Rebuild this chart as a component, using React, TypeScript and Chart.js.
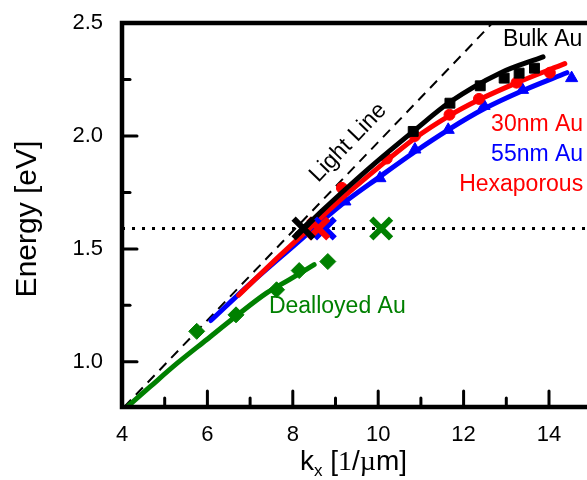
import { useEffect, useRef } from "react";
import { Chart, registerables } from "chart.js";
Chart.register(...registerables);

const FONT = "'Liberation Sans', Arial, sans-serif";

// axis ticks
const xTicks = [4, 6, 8, 10, 12, 14];
const xMinorTicks = [5, 7, 9, 11, 13];
const yTicks = [1.0, 1.5, 2.0, 2.5];
const yMinorTicks = [1.25, 1.75, 2.25];

// light line and reference energy line
const lightK = [4.05, 12.7];
const lightE = [0.8, 2.505];
const refK = [4, 14.9];
const refE = [1.59, 1.59];

// Bulk Au
const bulkK = [10.82, 11.68, 12.39, 12.95, 13.3, 13.66];
const bulkE = [2.02, 2.145, 2.222, 2.256, 2.278, 2.3];
const bulkFitK = [8.1, 8.25, 8.71, 9.3, 9.88, 10.82, 11.68, 12.85, 13.86];
const bulkFitE = [1.565, 1.59, 1.673, 1.775, 1.872, 2.02, 2.15, 2.278, 2.35];

// 30nm Au Hexaporous
const au30K = [9.15, 10.2, 10.86, 11.67, 12.36, 13.24, 14.02];
const au30E = [1.77, 1.9, 2.0, 2.094, 2.164, 2.236, 2.28];
const au30FitK = [6.73, 7.5, 8.3, 9.1, 10.0, 10.86, 11.67, 12.36, 13.24, 14.37];
const au30FitE = [1.295, 1.435, 1.575, 1.715, 1.86, 1.99, 2.09, 2.16, 2.235, 2.32];

// 55nm Au Hexaporous
const au55K = [9.22, 10.04, 10.86, 11.64, 12.48, 13.38, 14.53];
const au55E = [1.71, 1.813, 1.94, 2.027, 2.133, 2.204, 2.256];
const au55FitK = [6.08, 7.0, 8.0, 9.1, 10.04, 10.86, 11.64, 12.48, 13.38, 14.42];
const au55FitE = [1.183, 1.345, 1.51, 1.69, 1.82, 1.93, 2.027, 2.12, 2.2, 2.28];

// Dealloyed Au
const dealK = [5.75, 6.67, 7.62, 8.15, 8.82];
const dealE = [1.135, 1.208, 1.319, 1.404, 1.444];
const dealFitK = [4.15, 4.66, 5.3, 5.98, 6.69, 7.39, 7.93, 8.5];
const dealFitE = [0.805, 0.89, 0.995, 1.098, 1.205, 1.305, 1.365, 1.43];

// crossing markers (X) at the reference energy
const crossBulkK = [8.25];
const crossAu30K = [8.6];
const crossAu55K = [8.75];
const crossDealK = [10.07];
const crossE = [1.59];

const BLACK = "#000000";
const RED = "#ff0000";
const BLUE = "#0000ff";
const GREEN = "#008000";

const annotations = [
  { text: "Bulk Au", k: 14.78, e: 2.425, color: BLACK, align: "right" },
  { text: "30nm Au", k: 14.8, e: 2.049, color: RED, align: "right" },
  { text: "55nm Au", k: 14.8, e: 1.919, color: BLUE, align: "right" },
  { text: "Hexaporous", k: 14.8, e: 1.784, color: RED, align: "right" },
  { text: "Dealloyed Au", k: 7.44, e: 1.245, color: GREEN, align: "left" },
];

const pts = (xs: number[], ys: number[]) => xs.map((x, i) => ({ x, y: ys[i] }));

const lineDs = (data: any, color: string, order: number, extra: any = {}) => ({
  data,
  showLine: true,
  borderColor: color,
  backgroundColor: color,
  borderWidth: 5,
  pointRadius: 0,
  tension: 0.4,
  cubicInterpolationMode: "monotone",
  borderCapStyle: "round",
  order,
  ...extra,
});

const markDs = (data: any, color: string, style: string, radius: number, order: number, bw = 1) => ({
  data,
  showLine: false,
  pointStyle: style,
  pointRadius: radius,
  pointBorderWidth: bw,
  borderColor: color,
  backgroundColor: color,
  pointBackgroundColor: color,
  pointBorderColor: color,
  order,
});

const framePlugin = {
  id: "frame",
  afterDraw(chart: any) {
    const { ctx, chartArea, scales } = chart;
    const xs = scales.x;
    const ys = scales.y;
    const left = chartArea.left;
    const bottom = chartArea.bottom;
    const top = chartArea.top;
    const right = chart.width;
    ctx.save();
    ctx.strokeStyle = "#000";
    ctx.lineCap = "round";
    ctx.lineWidth = 3;
    const tick = (x1: number, y1: number, x2: number, y2: number) => {
      ctx.beginPath();
      ctx.moveTo(x1, y1);
      ctx.lineTo(x2, y2);
      ctx.stroke();
    };
    xTicks.forEach((v) => {
      const p = xs.getPixelForValue(v);
      tick(p, bottom, p, bottom - 16);
    });
    xMinorTicks.forEach((v) => {
      const p = xs.getPixelForValue(v);
      tick(p, bottom, p, bottom - 9);
    });
    yTicks.forEach((v) => {
      const p = ys.getPixelForValue(v);
      tick(left, p, left + 15, p);
    });
    yMinorTicks.forEach((v) => {
      const p = ys.getPixelForValue(v);
      tick(left, p, left + 8, p);
    });
    // axis lines
    ctx.lineCap = "square";
    ctx.lineWidth = 4.5;
    ctx.beginPath();
    ctx.moveTo(right + 5, top);
    ctx.lineTo(left, top);
    ctx.lineTo(left, bottom);
    ctx.lineTo(right + 5, bottom);
    ctx.stroke();

    // annotations
    ctx.textBaseline = "middle";
    ctx.font = `23px ${FONT}`;
    annotations.forEach((a) => {
      ctx.fillStyle = a.color;
      ctx.textAlign = a.align;
      ctx.fillText(a.text, xs.getPixelForValue(a.k), ys.getPixelForValue(a.e));
    });
    // light line label
    const x1 = xs.getPixelForValue(lightK[0]);
    const y1 = ys.getPixelForValue(lightE[0]);
    const x2 = xs.getPixelForValue(lightK[1]);
    const y2 = ys.getPixelForValue(lightE[1]);
    const ang = Math.atan2(y2 - y1, x2 - x1);
    ctx.save();
    ctx.translate(xs.getPixelForValue(9.3), ys.getPixelForValue(1.97));
    ctx.rotate(ang);
    ctx.textAlign = "center";
    ctx.fillStyle = BLACK;
    ctx.fillText("Light Line", 0, 0);
    ctx.restore();

    // y title
    ctx.save();
    ctx.translate(28, 219);
    ctx.rotate(-Math.PI / 2);
    ctx.textAlign = "center";
    ctx.fillStyle = BLACK;
    ctx.font = `30px ${FONT}`;
    ctx.fillText("Energy [eV]", 0, 0);
    ctx.restore();

    // x title: k_x [1/µm]
    ctx.textAlign = "left";
    ctx.textBaseline = "alphabetic";
    ctx.fillStyle = BLACK;
    const base = 470;
    let cx = 300;
    const seg = (t: string, font: string, dy = 0) => {
      ctx.font = font;
      ctx.fillText(t, cx, base + dy);
      cx += ctx.measureText(t).width;
    };
    seg("k", `28px ${FONT}`);
    seg("x", `17px ${FONT}`, 6);
    seg(" [", `28px ${FONT}`);
    seg("1", `28px 'Liberation Serif', serif`);
    seg("/", `28px ${FONT}`);
    seg("µ", `28px 'Liberation Serif', serif`);
    seg("m]", `28px ${FONT}`);
    ctx.restore();
  },
};

export default function App() {
  const ref = useRef<HTMLCanvasElement | null>(null);
  useEffect(() => {
    if (!ref.current) return;
    const chart = new Chart(ref.current, {
      type: "scatter",
      data: {
        datasets: [
          lineDs(pts(refK, refE), BLACK, 100, { borderWidth: 3, borderDash: [3, 7], borderCapStyle: "butt", tension: 0 }),
          lineDs(pts(lightK, lightE), BLACK, 90, { borderWidth: 2, borderDash: [10, 7], borderCapStyle: "butt", tension: 0 }),
          markDs(pts(au55K, au55E), BLUE, "triangle", 7, 80),
          lineDs(pts(au55FitK, au55FitE), BLUE, 75),
          markDs(pts(au30K, au30E), RED, "circle", 5.5, 70),
          lineDs(pts(au30FitK, au30FitE), RED, 65),
          markDs(pts(bulkK, bulkE), BLACK, "rect", 7, 60),
          lineDs(pts(bulkFitK, bulkFitE), BLACK, 55),
          markDs(pts(dealK, dealE), GREEN, "rectRot", 8, 50),
          lineDs(pts(dealFitK, dealFitE), GREEN, 45),
          markDs(pts(crossAu55K, crossE), BLUE, "crossRot", 14, 30, 6),
          markDs(pts(crossAu30K, crossE), RED, "crossRot", 14, 25, 6),
          markDs(pts(crossBulkK, crossE), BLACK, "crossRot", 14, 20, 6),
          markDs(pts(crossDealK, crossE), GREEN, "crossRot", 14, 20, 6),
        ] as any,
      },
      options: {
        animation: false,
        responsive: false,
        maintainAspectRatio: false,
        events: [],
        layout: { autoPadding: false, padding: { top: 23, left: 0, right: 0, bottom: 0 } },
        plugins: { legend: { display: false }, tooltip: { enabled: false } },
        scales: {
          x: {
            type: "linear",
            min: 4,
            max: 14.89,
            position: "bottom",
            afterBuildTicks: (s: any) => {
              s.ticks = xTicks.map((v) => ({ value: v }));
            },
            afterFit: (s: any) => {
              s.height = 73;
              s.paddingLeft = 0;
              s.paddingRight = 0;
            },
            grid: { display: false, drawTicks: false },
            border: { display: false },
            ticks: {
              font: { family: FONT, size: 22 },
              color: "#000",
              padding: 15,
              maxRotation: 0,
              autoSkip: false,
              callback: (v: any) => String(v),
            },
          },
          y: {
            type: "linear",
            min: 0.8,
            max: 2.5,
            afterBuildTicks: (s: any) => {
              s.ticks = yTicks.map((v) => ({ value: v }));
            },
            afterFit: (s: any) => {
              s.width = 122;
              s.paddingTop = 0;
              s.paddingBottom = 0;
            },
            grid: { display: false, drawTicks: false },
            border: { display: false },
            ticks: {
              font: { family: FONT, size: 22 },
              color: "#000",
              padding: 19,
              autoSkip: false,
              callback: (v: any) => Number(v).toFixed(1),
            },
          },
        },
      } as any,
      plugins: [framePlugin],
    });
    return () => chart.destroy();
  }, []);
  return (
    <div style={{ position: "absolute", left: 0, top: 0, width: 587, height: 480 }}>
      <canvas ref={ref} width={587} height={480} style={{ display: "block" }} />
    </div>
  );
}
